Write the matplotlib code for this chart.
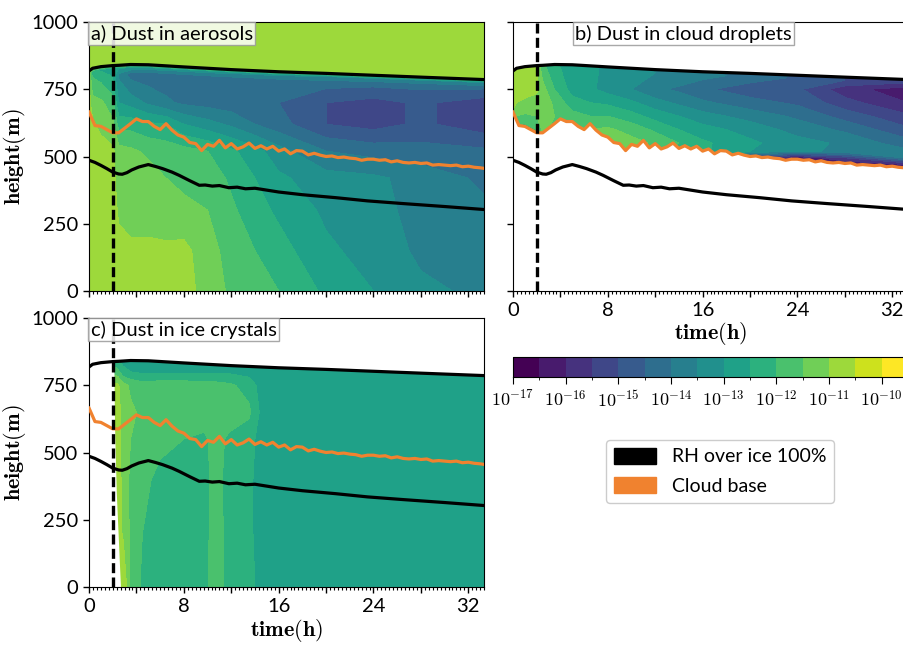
import numpy as np
import matplotlib.pyplot as plt
from matplotlib.colors import BoundaryNorm
from matplotlib.patches import Patch

plt.rcParams['font.family'] = ['Lato', 'DejaVu Sans']
plt.rcParams['mathtext.fontset'] = 'cm'

# --- lines (time in h, height in m) ---
t_top = [0, 0.3, 1, 2, 2.5, 3.5, 5, 6.5, 8, 10, 12, 14, 16, 20, 24, 28, 33.3]
z_top = [818, 828, 834, 838, 839, 842, 841, 837, 833, 828, 823, 819, 815, 809, 802, 795, 786]

t_rh = [0, 0.5, 1, 1.5, 2, 2.5, 2.8, 3.2, 3.6, 4.2, 5, 5.6, 6.2, 7, 7.6, 8.5, 9.3, 9.8,
        10.4, 11, 11.8, 12.5, 13.2, 14, 15, 16, 18, 20.8, 23.5, 26.5, 30, 33.3]
z_rh = [486, 478, 467, 455, 442, 435, 434, 440, 450, 461, 470, 463, 455, 442, 430, 410, 393, 394,
        390, 392, 384, 386, 380, 382, 375, 368, 358, 347, 335, 325, 314, 303]

t_cb = list(np.arange(0, 33.01, 0.5)) + [33.3]
z_cb = [665, 615, 612, 600, 588, 588, 605, 622, 640, 630, 630, 612, 600, 622, 598, 580, 572,
        552, 548, 522, 545, 538, 560, 532, 548, 528, 536, 550, 530, 540, 528, 538, 520, 528,
        510, 522, 520, 506, 512, 505, 500, 502, 496, 498, 494, 492, 486, 490, 490, 486, 488,
        480, 484, 478, 476, 478, 474, 476, 468, 470, 468, 466, 468, 462, 464, 460, 458, 456]

t_start = 2.0  # dust release

# --- log10 concentration tables, one row per time in t_top ---
a_rows = [0, 150, 300, 420, 520, 620, 700]   # + top-35, top-12, top+5, 1000
a_vals = [
    [-10.7, -10.7, -10.7, -10.7, -10.7, -10.7, -10.8, -11.0, -11.2, -10.7, -10.7],
    [-10.7, -10.7, -10.7, -10.7, -10.7, -10.9, -11.3, -12.0, -12.4, -10.7, -10.7],
    [-10.7, -10.7, -10.7, -10.7, -10.7, -11.2, -11.4, -12.2, -12.6, -10.7, -10.7],
    [-10.7, -10.7, -10.7, -10.8, -10.9, -11.4, -11.8, -12.6, -12.8, -10.7, -10.7],
    [-10.7, -10.8, -11.1, -11.3, -11.3, -12.2, -13.0, -13.6, -13.0, -10.7, -10.7],
    [-10.8, -10.9, -11.2, -11.3, -11.4, -12.2, -13.2, -14.2, -13.1, -10.7, -10.7],
    [-10.8, -10.9, -11.2, -11.3, -11.6, -12.4, -13.6, -14.3, -13.2, -10.7, -10.7],
    [-10.8, -10.9, -11.3, -11.5, -11.7, -12.5, -13.9, -14.3, -13.3, -10.7, -10.7],
    [-10.8, -10.85, -11.4, -11.6, -11.8, -13.0, -14.1, -14.3, -13.3, -10.7, -10.7],
    [-11.2, -11.3, -11.5, -11.7, -12.0, -13.3, -14.2, -14.3, -13.3, -10.7, -10.7],
    [-11.6, -11.7, -11.9, -12.1, -12.4, -13.6, -14.3, -14.3, -13.4, -10.7, -10.7],
    [-11.8, -12.0, -12.3, -12.5, -12.8, -14.0, -14.3, -14.3, -13.4, -10.7, -10.7],
    [-12.0, -12.3, -12.6, -12.9, -13.3, -14.3, -14.5, -14.3, -13.4, -10.7, -10.7],
    [-12.6, -12.9, -13.1, -13.3, -14.0, -15.0, -15.0, -14.3, -13.5, -10.7, -10.7],
    [-13.0, -13.2, -13.3, -13.4, -14.2, -15.2, -15.2, -14.4, -13.6, -10.7, -10.7],
    [-13.4, -13.6, -13.7, -13.7, -14.3, -14.9, -14.9, -14.4, -13.6, -10.7, -10.7],
    [-13.6, -13.8, -13.9, -14.1, -14.4, -15.3, -15.3, -14.5, -13.6, -10.7, -10.7],
]

b_rows = [440, 470, 495, 520, 550, 600, 650, 700, 750]   # + top-12, top+20
b_vals = [
    [-11.0, -11.0, -11.0, -11.0, -11.0, -11.0, -11.1, -10.9, -10.8, -10.9, -11.0],
    [-12.3, -12.3, -12.3, -12.3, -12.3, -12.3, -11.5, -11.0, -10.8, -10.9, -11.0],
    [-12.3, -12.3, -12.3, -12.3, -12.3, -12.3, -11.6, -11.1, -10.8, -10.9, -11.0],
    [-12.0, -12.0, -12.0, -12.0, -12.0, -12.0, -11.5, -11.2, -10.9, -10.95, -11.0],
    [-11.4, -11.4, -11.4, -11.4, -11.4, -11.4, -11.2, -11.2, -11.3, -11.8, -12.0],
    [-11.6, -11.6, -11.6, -11.6, -11.6, -11.6, -11.5, -11.6, -12.0, -12.4, -12.5],
    [-11.6, -11.6, -11.6, -11.6, -11.6, -11.6, -11.8, -12.3, -12.7, -12.7, -12.8],
    [-11.5, -11.5, -11.5, -11.5, -11.5, -11.5, -12.0, -12.5, -12.9, -12.8, -13.0],
    [-11.3, -11.3, -11.3, -11.3, -11.3, -11.4, -12.0, -12.6, -13.2, -13.2, -13.2],
    [-11.4, -11.4, -11.4, -11.4, -11.3, -11.7, -12.3, -12.9, -13.5, -13.3, -13.5],
    [-11.8, -11.8, -11.8, -11.8, -11.6, -12.1, -12.7, -13.3, -13.9, -13.5, -13.6],
    [-12.2, -12.2, -12.2, -12.2, -12.0, -12.5, -13.0, -13.6, -14.1, -13.6, -13.8],
    [-12.4, -12.4, -12.4, -12.4, -12.4, -12.8, -13.3, -13.9, -14.4, -13.8, -14.0],
    [-15.0, -15.5, -15.5, -13.0, -12.9, -13.2, -13.7, -14.3, -14.8, -14.2, -14.2],
    [-16.5, -16.5, -16.5, -13.4, -13.3, -13.7, -14.1, -14.6, -14.9, -14.6, -14.5],
    [-16.5, -16.5, -15.5, -13.6, -13.6, -14.1, -14.7, -15.3, -15.8, -15.0, -15.0],
    [-16.7, -16.0, -13.9, -13.9, -14.3, -14.9, -15.4, -16.0, -16.3, -15.5, -15.0],
]

c_times = [2.0, 2.4, 2.9, 3.5, 4.5, 6, 8, 9.7, 10.7, 11.8, 13.5, 14.5, 20, 33.3]
c_rows = [0, 200, 400, 550, 650, 750, 800, 860]
c_vals = [
    [-10.9, -10.9, -10.9, -10.9, -10.9, -10.9, -11.6, -12.7],
    [-10.8, -10.7, -10.7, -10.8, -10.8, -10.9, -11.8, -12.7],
    [-10.5, -11.1, -11.2, -11.2, -11.2, -11.3, -12.4, -12.7],
    [-11.6, -11.6, -11.6, -11.5, -11.4, -11.6, -12.5, -12.7],
    [-12.1, -12.0, -11.9, -11.8, -11.6, -11.8, -12.6, -12.7],
    [-12.2, -12.2, -12.1, -11.9, -11.6, -11.7, -12.6, -12.7],
    [-12.2, -12.2, -12.2, -12.0, -11.6, -11.7, -12.6, -12.7],
    [-12.3, -12.3, -12.3, -12.1, -11.7, -11.8, -12.6, -12.7],
    [-11.5, -11.6, -11.7, -11.8, -11.7, -11.8, -12.6, -12.7],
    [-12.3, -12.3, -12.3, -12.1, -11.7, -11.9, -12.6, -12.7],
    [-12.4, -12.4, -12.4, -12.3, -11.9, -12.2, -12.7, -12.7],
    [-12.6, -12.7, -12.7, -12.7, -12.6, -12.7, -12.7, -12.7],
    [-12.7, -12.7, -12.7, -12.7, -12.7, -12.7, -12.7, -12.7],
    [-12.7, -12.7, -12.7, -12.7, -12.7, -12.7, -12.7, -12.7],
]
c_left_z = [0, 150, 350, 600, 800, 1000]
c_left_t = [2.65, 2.5, 2.3, 2.15, 2.1, 2.1]

levels = np.arange(-17, -9.49, 0.5)
cbar_ticks = list(range(-17, -9))
xticks = [0, 4, 8, 12, 16, 20, 24, 28, 32]
xticklabels = ['0', '', '8', '', '16', '', '24', '', '32']
yticks = [0, 250, 500, 750, 1000]
orange = '#f0822f'

norm = BoundaryNorm(levels, 256)
ztop = np.array(z_top)

# curvilinear grids
Xa = np.tile(t_top, (len(a_rows) + 4, 1))
Ya = np.vstack([np.full(len(t_top), r) for r in a_rows] + [ztop - 35, ztop - 12, ztop + 5, np.full(len(t_top), 1000)])
Za = np.array(a_vals).T

Xb = np.tile(t_top, (len(b_rows) + 2, 1))
Yb = np.vstack([np.full(len(t_top), r) for r in b_rows] + [ztop - 12, ztop + 20])
Zb = np.array(b_vals).T

Xc, Yc = np.meshgrid(c_times, c_rows)
Zc = np.array(c_vals).T

fig = plt.figure(figsize=(9.04, 6.51), dpi=100)
ax_a = fig.add_axes([0.0985, 0.553, 0.437, 0.4132])
ax_b = fig.add_axes([0.5675, 0.553, 0.437, 0.4132])
ax_c = fig.add_axes([0.0985, 0.0983, 0.437, 0.4132])
cax = fig.add_axes([0.5675, 0.4209, 0.437, 0.0307])

cs = ax_a.contourf(Xa, Ya, Za, levels=levels, cmap='viridis', norm=norm)
ax_b.contourf(Xb, Yb, Zb, levels=levels, cmap='viridis', norm=norm)
ax_b.fill_between(t_cb, 0, z_cb, color='white', zorder=1.5, lw=0)
ax_b.fill_between(t_top, z_top, 1000, color='white', zorder=1.5, lw=0)
ax_c.contourf(Xc, Yc, Zc, levels=levels, cmap='viridis', norm=norm)
ax_c.fill_between(t_top, z_top, 1000, color='white', zorder=1.5, lw=0)
ax_c.fill_betweenx(c_left_z, 0, c_left_t, color='white', zorder=1.5, lw=0)

labels = {ax_a: ('a) Dust in aerosols', 0.004), ax_b: ('b) Dust in cloud droplets', 0.158),
          ax_c: ('c) Dust in ice crystals', 0.004)}
for ax in (ax_a, ax_b, ax_c):
    ax.plot(t_top, z_top, color='black', lw=2.3, zorder=3)
    ax.plot(t_rh, z_rh, color='black', lw=2.3, zorder=3)
    ax.plot(t_cb, z_cb, color=orange, lw=2.3, zorder=3)
    ax.axvline(t_start, color='black', lw=2.4, ls=(0, (3, 1.3)), zorder=3)
    ax.set_xlim(0, 33.3)
    ax.set_ylim(0, 1000)
    ax.set_xticks(xticks)
    ax.set_xticks(np.arange(0, 33.4, 1 / 3), minor=True)
    ax.set_yticks(yticks)
    ax.tick_params(which='major', length=4.5, width=1, labelsize=14.5)
    ax.tick_params(which='minor', length=2.5, width=0.8)
    txt, x0 = labels[ax]
    ax.text(x0, 0.99, txt, transform=ax.transAxes, ha='left', va='top', fontsize=14.5, zorder=4,
            bbox=dict(boxstyle='square,pad=0.12', fc='white', ec='#999999', alpha=0.85))

ax_a.set_xticklabels([])
ax_b.set_yticklabels([])
ax_b.set_xticklabels(xticklabels)
ax_c.set_xticklabels(xticklabels)
ax_a.set_ylabel(r'$\mathbf{height(m)}$', fontsize=16, labelpad=2)
ax_c.set_ylabel(r'$\mathbf{height(m)}$', fontsize=16, labelpad=2)
ax_b.set_xlabel(r'$\mathbf{time(h)}$', fontsize=16, labelpad=1)
ax_c.set_xlabel(r'$\mathbf{time(h)}$', fontsize=16, labelpad=1)

cb = fig.colorbar(cs, cax=cax, orientation='horizontal', ticks=cbar_ticks)
cb.set_ticklabels([r'$10^{%d}$' % v for v in cbar_ticks])
cb.ax.tick_params(labelsize=13, length=5)

handles = [Patch(facecolor='black', edgecolor='black'), Patch(facecolor=orange, edgecolor=orange)]
fig.legend(handles, ['RH over ice 100%', 'Cloud base'], loc='upper left',
           bbox_to_anchor=(596 / 904, 1 - 430 / 651), fontsize=14, handlelength=2.2,
           handleheight=0.9, labelspacing=0.6, framealpha=1, edgecolor='#cccccc')

fig.savefig('out.png', dpi=100)
